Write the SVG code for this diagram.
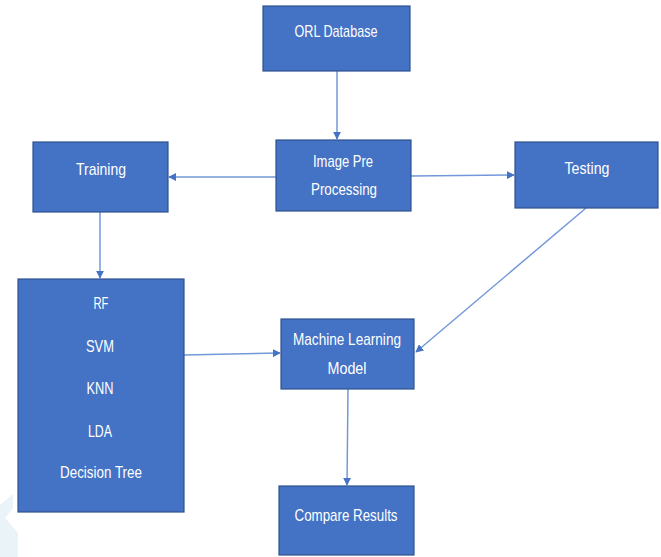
<svg xmlns="http://www.w3.org/2000/svg" width="661" height="557" viewBox="0 0 661 557">
<style>
.box{fill:#4472C4;stroke:#2F528F;stroke-width:1.2}
.lbl{font-family:"Liberation Sans",Arial,sans-serif;font-size:17px;fill:#FFFFFF;text-anchor:middle;dominant-baseline:central}
.edge{stroke:#7398DA;stroke-width:1.5;fill:none;marker-end:url(#ah)}
</style>
<defs>
<marker id="ah" viewBox="0 0 10 10" refX="9" refY="5" markerWidth="8" markerHeight="8" markerUnits="userSpaceOnUse" orient="auto">
<path d="M0,0 L10,5 L0,10 z" fill="#4472C4"/>
</marker>
</defs>
<rect width="661" height="557" fill="#FFFFFF"/>
<polygon points="0,505 13,494 13,508 5,518 18,533 18,557 0,557" fill="#EAF3F7"/>
<g id="connectors">
<line class="edge" x1="337" y1="71" x2="337" y2="139"/>
<line class="edge" x1="276" y1="177" x2="169" y2="177"/>
<line class="edge" x1="411" y1="176" x2="514" y2="175"/>
<line class="edge" x1="100" y1="212" x2="100" y2="278"/>
<line class="edge" x1="586" y1="208" x2="416" y2="352"/>
<line class="edge" x1="184" y1="355" x2="280" y2="353"/>
<line class="edge" x1="348" y1="389" x2="347" y2="485"/>
</g>
<g id="orl">
<rect class="box" x="263" y="6" width="147" height="65"/>
<text class="lbl" x="336" y="31" textLength="83" lengthAdjust="spacingAndGlyphs">ORL Database</text>
</g>
<g id="preproc">
<rect class="box" x="276" y="140" width="135" height="71"/>
<text class="lbl" x="343" y="161" textLength="60" lengthAdjust="spacingAndGlyphs">Image Pre</text>
<text class="lbl" x="344" y="189" textLength="66" lengthAdjust="spacingAndGlyphs">Processing</text>
</g>
<g id="training">
<rect class="box" x="33" y="142" width="135" height="70"/>
<text class="lbl" x="101" y="169" textLength="50" lengthAdjust="spacingAndGlyphs">Training</text>
</g>
<g id="testing">
<rect class="box" x="515" y="142" width="143" height="66"/>
<text class="lbl" x="587" y="168" textLength="45" lengthAdjust="spacingAndGlyphs">Testing</text>
</g>
<g id="algorithms">
<rect class="box" x="18" y="279" width="166" height="233"/>
<text class="lbl" x="101" y="303" textLength="15" lengthAdjust="spacingAndGlyphs">RF</text>
<text class="lbl" x="100" y="346" textLength="28" lengthAdjust="spacingAndGlyphs">SVM</text>
<text class="lbl" x="100" y="388" textLength="27" lengthAdjust="spacingAndGlyphs">KNN</text>
<text class="lbl" x="100" y="431" textLength="24" lengthAdjust="spacingAndGlyphs">LDA</text>
<text class="lbl" x="101" y="472" textLength="82" lengthAdjust="spacingAndGlyphs">Decision Tree</text>
</g>
<g id="mlmodel">
<rect class="box" x="281" y="319" width="133" height="70"/>
<text class="lbl" x="347" y="339" textLength="108" lengthAdjust="spacingAndGlyphs">Machine Learning</text>
<text class="lbl" x="347" y="368" textLength="39" lengthAdjust="spacingAndGlyphs">Model</text>
</g>
<g id="compare">
<rect class="box" x="279" y="486" width="135" height="69"/>
<text class="lbl" x="346" y="515" textLength="103" lengthAdjust="spacingAndGlyphs">Compare Results</text>
</g>
</svg>
